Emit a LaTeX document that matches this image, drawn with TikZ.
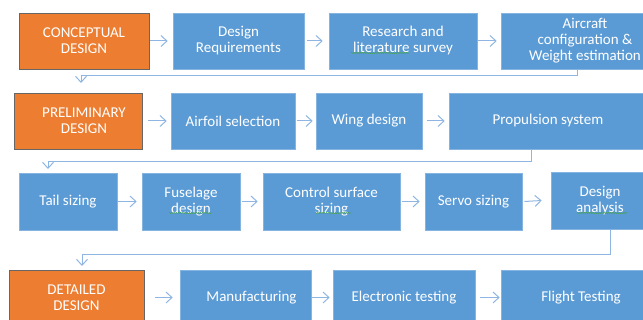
\documentclass[tikz,border=0pt]{standalone}
\usepackage{fontspec}
\setmainfont{Carlito}
\usetikzlibrary{arrows.meta,decorations.pathmorphing}

\definecolor{stageorange}{RGB}{237,125,49}
\definecolor{stepblue}{RGB}{91,155,213}
\definecolor{linkblue}{RGB}{143,182,226}
\definecolor{spellgreen}{RGB}{70,160,90}

\tikzset{
  boxtext/.style={text=white, font=\fontsize{15}{16}\selectfont, align=center, inner sep=0pt},
  stage/.style={boxtext, rectangle, fill=stageorange, draw=black!60, line width=0.6pt},
  stepbox/.style={boxtext, rectangle, fill=stepblue, draw=stepblue!75!white, line width=0.6pt},
  flow/.style={draw=linkblue, line width=1pt,
    -{Straight Barb[length=6pt,width=11pt,line width=1pt]}},
  spell/.style={draw=spellgreen, line width=0.5pt,
    decorate, decoration={snake, amplitude=0.6pt, segment length=2.2pt}},
}

\begin{document}
\begin{tikzpicture}[x=1pt,y=1pt]
\useasboundingbox (0,0) rectangle (643,-320);
\clip (0,0) rectangle (643,-320);

% --- conceptual design row
\node[stage,   minimum width=130, minimum height=56] (cd) at (84,-41)    {CONCEPTUAL\\DESIGN};
\node[stepbox, minimum width=131, minimum height=56] (dr) at (238.5,-41) {Design\\Requirements};
\node[stepbox, minimum width=148, minimum height=56] (rl) at (403,-41)   {Research and\\literature survey};
\node[stepbox, minimum width=168, minimum height=56] (ac) at (585,-41)   {Aircraft\\configuration \&\\Weight estimation};

% --- preliminary design row
\node[stage, minimum width=128, minimum height=56,
      label={[boxtext, xshift=6]center:PRELIMINARY\\DESIGN}] (pd) at (78,-121) {};
\node[stepbox, minimum width=124, minimum height=56] (af) at (233,-121) {Airfoil selection};
\node[stepbox, minimum width=106, minimum height=56] (wd) at (369,-121) {Wing design};
\node[stepbox, minimum width=198, minimum height=56] (ps) at (548,-121) {Propulsion system};

% --- sizing row
\node[stepbox, minimum width=98,  minimum height=57] (ts) at (68,-201.5)    {Tail sizing};
\node[stepbox, minimum width=98,  minimum height=57] (fd) at (191,-201.5)   {Fuselage\\design};
\node[stepbox, minimum width=137, minimum height=57] (cs) at (331.5,-201.5) {Control surface\\sizing};
\node[stepbox, minimum width=97,  minimum height=57] (ss) at (473.5,-201.5) {Servo sizing};
\node[stepbox, minimum width=98,  minimum height=57] (da) at (600,-200.5)   {Design\\analysis};

% --- detailed design row
\node[stage, minimum width=135, minimum height=55] (dd) at (76.5,-297.5) {DETAILED\\DESIGN};
\node[stepbox, minimum width=131, minimum height=55,
      label={[boxtext, xshift=6]center:Manufacturing}] (mf) at (245.5,-297.5) {};
\node[stepbox, minimum width=142, minimum height=55] (et) at (404,-297.5) {Electronic testing};
\node[stepbox, minimum width=160, minimum height=55] (ft) at (581,-297.5) {Flight Testing};

% --- arrows within each row
\draw[flow] ([xshift=1]cd.east) -- ([xshift=-5]dr.west);
\draw[flow] ([xshift=3]dr.east) -- ([xshift=-6]rl.west);
\draw[flow] ([xshift=1]rl.east) -- ([xshift=-4]ac.west);

\draw[flow] ([xshift=6]pd.east) -- ([xshift=-4]af.west);
\draw[flow] ([xshift=2]af.east) -- ([xshift=-3]wd.west);
\draw[flow] ([xshift=5]wd.east) -- ([xshift=-4]ps.west);

\draw[flow] ([xshift=1]ts.east) -- ([xshift=-5]fd.west);
\draw[flow] ([xshift=2]fd.east) -- ([xshift=-5]cs.west);
\draw[flow] ([xshift=2]cs.east) -- ([xshift=-5]ss.west);
\draw[flow] ([xshift=2]ss.east) -- ([xshift=-9]da.west);

\draw[flow] ([xshift=11]dd.east) -- ([xshift=-7]mf.west);
\draw[flow] ([xshift=1]mf.east) -- ([xshift=-3]et.west);
\draw[flow] ([xshift=5]et.east) -- ([xshift=-1]ft.west);

% --- return links from the end of one row to the next stage
\coordinate (t1) at (81,-76);  \coordinate (e1) at (81,-83);
\coordinate (t2) at (48,-162); \coordinate (e2) at (48,-169);
\coordinate (t3) at (82,-255); \coordinate (e3) at (82,-266);
\draw[flow] ([xshift=-8]ac.south) |- (t1) -- (e1);
\draw[flow] ([xshift=-17]ps.south) |- (t2) -- (e2);
\draw[flow] ([xshift=10]da.south) |- (t3) -- (e3);

% --- proofing marks under words
\draw[spell] (351,-53) -- (409,-53);
\draw[spell] (169,-213) -- (212,-213);
\draw[spell] (315,-213) -- (351,-213);
\draw[spell] (577,-213) -- (627,-213);
\end{tikzpicture}
\end{document}
